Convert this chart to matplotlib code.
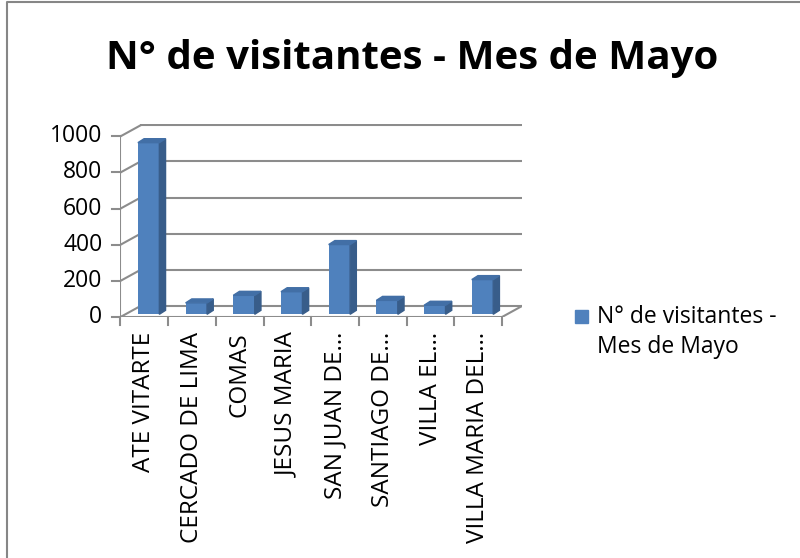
import matplotlib
matplotlib.use("Agg")
import matplotlib.pyplot as plt
from matplotlib.patches import Polygon, Rectangle
from matplotlib.lines import Line2D
import numpy as np

categories = ["ATE VITARTE", "CERCADO DE LIMA", "COMAS", "JESUS MARIA",
              "SAN JUAN DE…", "SANTIAGO DE…", "VILLA EL…", "VILLA MARIA DEL…"]
visitors = [950, 63, 105, 125, 386, 77, 50, 192]
yticks = [0, 200, 400, 600, 800, 1000]
series_name = "N° de visitantes - Mes de Mayo"

plt.rcParams['font.family'] = ['Open Sans', 'DejaVu Sans']

front = "#4F81BD"
side = "#385D8A"
top = "#426FA6"
grid = "#8C8C8C"

fig = plt.figure(figsize=(8, 5.58), dpi=100)
# chart frame (only left and top edges visible in the crop)
fig.add_artist(Line2D([0.009, 0.009, 1.0], [0.0, 0.996, 0.996], transform=fig.transFigure,
                      color="#868686", lw=1.5))

fig.text(0.515, 0.895, series_name, ha="center", va="center", fontsize=29, fontweight="bold")

ax = fig.add_axes([0.1506, 0.4319, 0.502, 0.3464])
# depth of the fake 3d box, in data units
dx, dy = 0.42, 61
n = len(categories)
ax.set_xlim(-0.5, n - 0.5 + dx)
ax.set_ylim(0, 1070)
ax.axis("off")

# back wall grid + left wall
for v in yticks:
    ax.plot([-0.5 + dx, n - 0.5 + dx], [v + dy, v + dy], color=grid, lw=1.5, zorder=1)
    ax.plot([-0.5, -0.5 + dx], [v, v + dy], color=grid, lw=1.5, zorder=1)
    ax.plot([-0.67, -0.5], [v, v], color=grid, lw=1.5, zorder=1, clip_on=False)
ax.plot([-0.5, -0.5], [0, 1000], color=grid, lw=1.5, zorder=1)
# floor
ax.plot([-0.5, n - 0.5, n - 0.5 + dx], [0, 0, dy], color=grid, lw=1.5, zorder=1)
for i in range(n + 1):
    ax.plot([i - 0.5, i - 0.5], [0, -45], color=grid, lw=1.5, zorder=1, clip_on=False)

# bars with side and top faces
bw = 0.45
bd = 0.13
bdy = 22
off_x, off_y = 0.09, 15
xs = np.arange(n) + off_x
ax.bar(xs, visitors, width=bw, bottom=off_y, color=front, zorder=3)
for x, v in zip(xs, visitors):
    r = x + bw / 2
    l = x - bw / 2
    t = v + off_y
    ax.add_patch(Polygon([(r, off_y), (r + bd, off_y + bdy), (r + bd, t + bdy), (r, t)],
                         closed=True, color=side, zorder=3))
    ax.add_patch(Polygon([(l, t), (r, t), (r + bd, t + bdy), (l + bd, t + bdy)],
                         closed=True, color=top, zorder=3))

for v in yticks:
    ax.text(-0.88, v, str(v), ha="right", va="center", fontsize=16.5, clip_on=False)
for i, c in enumerate(categories):
    ax.text(i, -82, c, ha="center", va="top", rotation=90, fontsize=17.5, clip_on=False)

# legend
fig.patches.append(Rectangle((0.719, 0.421), 0.016, 0.023, transform=fig.transFigure,
                             color=front))
fig.text(0.746, 0.405, "N° de visitantes -\nMes de Mayo", ha="left", va="center",
         fontsize=16.5, linespacing=1.35)

fig.savefig("out.png", dpi=100)
